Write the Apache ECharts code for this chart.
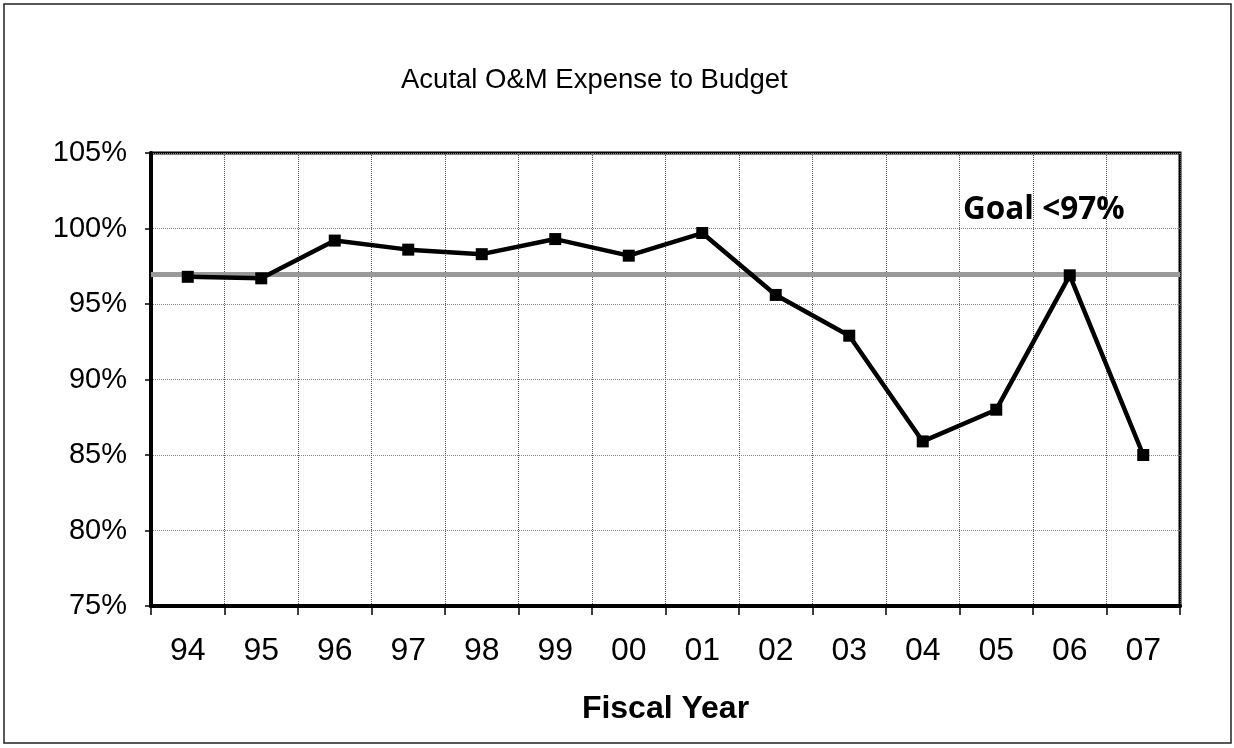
<!DOCTYPE html>
<html>
<head>
<meta charset="utf-8">
<title>Acutal O&amp;M Expense to Budget</title>
<script src="https://cdn.jsdelivr.net/npm/echarts@6/dist/echarts.min.js"></script>
<style>
  html, body { margin: 0; padding: 0; background: #ffffff; }
  #chart { width: 1234px; height: 748px; }
</style>
</head>
<body>
<div id="chart"></div>
<script>
// Fiscal years on the category axis
const fiscalYears = ['94', '95', '96', '97', '98', '99', '00', '01', '02', '03', '04', '05', '06', '07'];
// Actual O&M expense as a percent of budget
const expenseToBudget = [96.8, 96.7, 99.2, 98.6, 98.3, 99.3, 98.2, 99.7, 95.6, 92.9, 85.9, 88.0, 96.9, 85.0];
// Goal threshold (percent)
const goalValue = 97;
// Value axis range and step
const yMin = 75;
const yMax = 105;
const yStep = 5;

const FONT = '"Liberation Sans", Arial, sans-serif';

const chart = echarts.init(document.getElementById('chart'), null, { renderer: 'canvas' });

chart.setOption({
  backgroundColor: '#ffffff',
  animation: false,
  title: {
    text: 'Acutal O&M Expense to Budget',
    left: 396,
    top: 61,
    textStyle: { fontFamily: FONT, fontSize: 27.5, fontWeight: 'normal', color: '#000' }
  },
  graphic: [
    {
      type: 'rect',
      shape: { x: 4, y: 4, width: 1227, height: 739 },
      style: { fill: 'none', stroke: '#222', lineWidth: 1.5 },
      z: 0
    },
    {
      type: 'text',
      left: 963,
      top: 194,
      style: {
        text: 'Goal <97%',
        font: 'bold 31.5px "Open Sans", Lato, sans-serif',
        fill: '#000'
      },
      z: 10
    }
  ],
  grid: {
    left: 151,
    right: 54,
    top: 153,
    bottom: 142,
    show: true,
    borderColor: '#000',
    borderWidth: 3,
    backgroundColor: 'transparent'
  },
  xAxis: {
    type: 'category',
    data: fiscalYears,
    boundaryGap: true,
    name: 'Fiscal Year',
    nameLocation: 'middle',
    nameGap: 87,
    nameTextStyle: { fontFamily: FONT, fontSize: 32, fontWeight: 'bold', color: '#000' },
    axisLine: { show: true, lineStyle: { color: '#000', width: 4 } },
    axisTick: { show: true, alignWithLabel: false, length: 9, lineStyle: { color: '#000', width: 1.5 } },
    axisLabel: { margin: 29, fontFamily: FONT, fontSize: 32, color: '#000' },
    splitLine: { show: true, lineStyle: { color: '#555', type: 'dotted', width: 1 } }
  },
  yAxis: {
    type: 'value',
    min: yMin,
    max: yMax,
    interval: yStep,
    axisLine: { show: true, lineStyle: { color: '#000', width: 4 } },
    axisTick: { show: true, length: 6, lineStyle: { color: '#000', width: 1.5 } },
    axisLabel: {
      margin: 24,
      fontFamily: FONT,
      fontSize: 29,
      color: '#000',
      formatter: '{value}%'
    },
    splitLine: { show: true, lineStyle: { color: '#888', type: 'dotted', width: 1 } }
  },
  series: [
    {
      name: 'Goal',
      type: 'line',
      data: [],
      z: 1,
      markLine: {
        silent: true,
        symbol: ['none', 'none'],
        label: { show: false },
        lineStyle: { color: '#999999', width: 5, type: 'solid' },
        data: [{ yAxis: goalValue }]
      }
    },
    {
      name: 'Actual O&M Expense to Budget',
      type: 'line',
      data: expenseToBudget,
      z: 5,
      symbol: 'rect',
      symbolSize: 12,
      lineStyle: { color: '#000', width: 4.5 },
      itemStyle: { color: '#000' }
    }
  ]
});
</script>
</body>
</html>
